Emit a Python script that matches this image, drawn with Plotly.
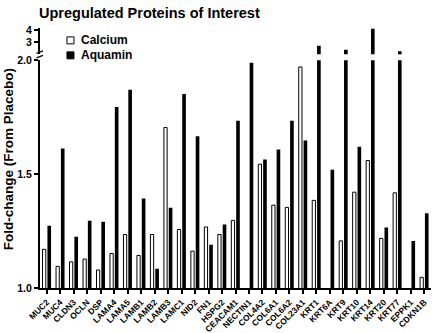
import plotly.graph_objects as go

categories = ["MUC2", "MUC4", "CLDN3", "OCLN", "DSP", "LAMA4", "LAMA5", "LAMB1", "LAMB2",
              "LAMB3", "LAMC1", "NID2", "FN1", "HSPG2", "CEACAM1", "NECTIN1", "COL4A2",
              "COL6A1", "COL6A2", "COL23A1", "KRT1", "KRT6A", "KRT9", "KRT10", "KRT14",
              "KRT20", "KRT77", "EPPK1", "CDKN1B"]

calcium = [1.17, 1.095, 1.115, 1.127, 1.079, 1.152, 1.235, 1.143, 1.235, 1.705, 1.257,
           1.162, 1.268, 1.235, 1.297, None, 1.544, 1.364, 1.354, 1.971, 1.385, None,
           1.207, 1.421, 1.56, 1.218, 1.418, None, 1.047]

aquamin = [1.273, 1.613, 1.225, 1.295, 1.291, 1.795, 1.871, 1.393, 1.085, 1.352, 1.852,
           1.667, 1.19, 1.279, 1.735, 1.99, 1.564, 1.608, 1.735, 1.648, 2.71, 1.519,
           2.39, 1.62, 4.14, 1.266, 2.25, 1.206, 1.328]

lower_ticks = [1.0, 1.5, 2.0]
upper_ticks = [3, 4]
series_names = ["Calcium", "Aquamin"]

FONT = "Liberation Sans, Arial, sans-serif"

aquamin_upper = [v if v is not None and v > 2 else None for v in aquamin]

fig = go.Figure()
fig.add_trace(go.Bar(x=categories, y=calcium, name=series_names[0], offset=-0.31, width=0.24,
                     marker=dict(color="white", line=dict(color="black", width=1)),
                     xaxis="x", yaxis="y", showlegend=False))
fig.add_trace(go.Bar(x=categories, y=aquamin, name=series_names[1], offset=0.05, width=0.27,
                     marker=dict(color="black", line=dict(color="black", width=0)),
                     xaxis="x", yaxis="y", showlegend=False))
fig.add_trace(go.Bar(x=categories, y=aquamin_upper, name=series_names[1], offset=0.05, width=0.27,
                     marker=dict(color="black", line=dict(color="black", width=0)),
                     xaxis="x", yaxis="y2", showlegend=False))

W, H = 440, 333
ml, mr, mt, mb = 39.5, 9, 27.6, 45
plot_h = H - mt - mb
plot_w = W - ml - mr


def ypix(p):
    return (H - mb - p) / plot_h


def xpix(p):
    return (p - ml) / plot_w


axis_common = dict(showline=True, linecolor="black", linewidth=2, ticks="outside",
                   ticklen=4, tickwidth=1.5, tickcolor="black", showgrid=False,
                   zeroline=False, automargin=False)

# manual legend (small squares like the original)
legend_shapes = []
legend_annots = []
for i, (nm, fill) in enumerate(zip(series_names, ["white", "black"])):
    cy = 40 + 15 * i
    legend_shapes.append(dict(type="rect", xref="paper", yref="paper",
                              x0=xpix(66.5), x1=xpix(73.5), y0=ypix(cy + 3.5), y1=ypix(cy - 3.5),
                              fillcolor=fill, line=dict(color="black", width=1)))
    legend_annots.append(dict(text=nm, xref="paper", yref="paper", x=xpix(78.5), y=ypix(cy),
                              xanchor="left", yanchor="middle", showarrow=False,
                              font=dict(family=FONT, size=12, weight="bold")))

fig.update_layout(
    width=W, height=H,
    margin=dict(l=ml, r=mr, t=mt, b=mb, pad=0, autoexpand=False),
    paper_bgcolor="white", plot_bgcolor="white",
    barmode="overlay",
    showlegend=False,
    font=dict(family=FONT, color="black", size=10),
    title=dict(text="Upregulated Proteins of Interest", x=39 / W, xanchor="left",
               y=1 - 13 / H, yanchor="middle", yref="container", automargin=False,
               font=dict(family=FONT, size=14.5, weight="bold", color="black")),
    xaxis=dict(
        type="category", range=[-0.5, len(categories) - 0.5], anchor="y",
        tickangle=-45, tickfont=dict(family=FONT, size=8.5, weight="bold"),
        **axis_common,
    ),
    yaxis=dict(
        domain=[0, ypix(60)], range=[1, 2],
        tickvals=lower_ticks, ticktext=[f"{v:.1f}" for v in lower_ticks],
        tickfont=dict(family=FONT, size=10.5, weight="bold"),
        **axis_common,
    ),
    yaxis2=dict(
        domain=[ypix(54), 1], range=[2, 4.2], anchor="x",
        tickvals=upper_ticks, ticktext=[str(v) for v in upper_ticks],
        tickfont=dict(family=FONT, size=10.5, weight="bold"),
        **axis_common,
    ),
    annotations=[
        dict(text="Fold-change (From Placebo)", textangle=-90, xref="paper", yref="paper",
             x=xpix(8), y=ypix(159.5), xanchor="center", yanchor="middle",
             showarrow=False, font=dict(family=FONT, size=13.5, weight="bold")),
    ] + legend_annots,
    shapes=[
        dict(type="path", xref="paper", yref="paper",
             path=f"M {xpix(36)},{ypix(57.5)} L {xpix(42.5)},{ypix(55)} "
                  f"M {xpix(36)},{ypix(53)} L {xpix(42.5)},{ypix(50.5)}",
             line=dict(color="black", width=1.2)),
    ] + legend_shapes,
)

fig.write_html("out.html", config={"displayModeBar": False},
               post_script="document.body.style.margin='0';document.body.style.padding='0';")
